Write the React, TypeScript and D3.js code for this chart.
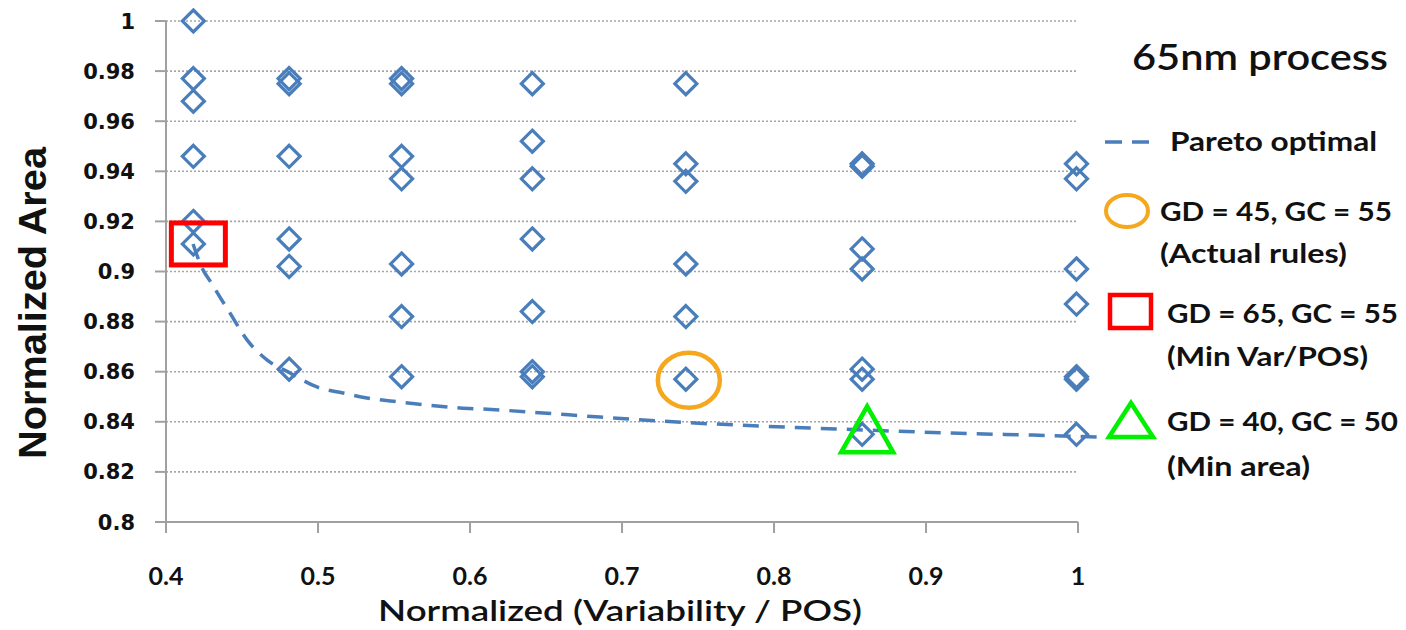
import React from "react";
import * as d3 from "d3";

// ---- data ----
const xTicks = [0.4, 0.5, 0.6, 0.7, 0.8, 0.9, 1];
const yTicks = [0.8, 0.82, 0.84, 0.86, 0.88, 0.9, 0.92, 0.94, 0.96, 0.98, 1];
const yTickLabels = ["0.8", "0.82", "0.84", "0.86", "0.88", "0.9", "0.92", "0.94", "0.96", "0.98", "1"];

const columnX = [0.418, 0.481, 0.555, 0.641, 0.742, 0.858, 0.999];
const areaCol1 = [1.0, 0.977, 0.968, 0.946, 0.920, 0.911];
const areaCol2 = [0.977, 0.975, 0.946, 0.913, 0.902, 0.861];
const areaCol3 = [0.977, 0.975, 0.946, 0.937, 0.903, 0.882, 0.858];
const areaCol4 = [0.975, 0.952, 0.937, 0.913, 0.884, 0.860, 0.858];
const areaCol5 = [0.975, 0.943, 0.936, 0.903, 0.882, 0.857];
const areaCol6 = [0.943, 0.942, 0.909, 0.901, 0.861, 0.857, 0.835];
const areaCol7 = [0.943, 0.937, 0.901, 0.887, 0.858, 0.857, 0.835];
const areaColumns = [areaCol1, areaCol2, areaCol3, areaCol4, areaCol5, areaCol6, areaCol7];

const paretoX = [0.4178, 0.4237, 0.4303, 0.4355, 0.4421, 0.4533, 0.4664, 0.4816, 0.4993, 0.5164, 0.5322, 0.5539, 0.5717, 0.5934, 0.6086, 0.648, 0.6855, 0.7362, 0.7908, 0.8612, 0.9158, 0.9704, 1.0164];
const paretoY = [0.911, 0.9014, 0.895, 0.8898, 0.8834, 0.8727, 0.8647, 0.8595, 0.8539, 0.8515, 0.8495, 0.8479, 0.8467, 0.8455, 0.8451, 0.8435, 0.8419, 0.8399, 0.8383, 0.8367, 0.8355, 0.8347, 0.8339];

const actualRules = { x: 0.742, y: 0.857 };
const minVarPos = { x: 0.418, y: 0.911 };
const minArea = { x: 0.858, y: 0.835 };

const legendTitle = "65nm process";
const legendPareto = "Pareto optimal";
const legendActual = ["GD = 45, GC = 55", "(Actual rules)"];
const legendMinVar = ["GD = 65, GC = 55", "(Min Var/POS)"];
const legendMinArea = ["GD = 40, GC = 50", "(Min area)"];

// ---- styles ----
const BLUE = "#4A7EBB";
const GRID = "#A6A6A6";
const AXIS = "#A0A0A0";
const ORANGE = "#F5A81E";
const RED = "#FF0000";
const GREEN = "#00F000";
const CAL = "Lato, 'Open Sans', sans-serif";

export default function App() {
  const x = d3.scaleLinear().domain([0.4, 1]).range([166, 1078]);
  const y = d3.scaleLinear().domain([0.8, 1]).range([522, 21]);

  const pts: { x: number; y: number }[] = [];
  areaColumns.forEach((col, i) => col.forEach((v) => pts.push({ x: columnX[i], y: v })));

  const line = d3
    .line<number>()
    .x((_, i) => x(paretoX[i]))
    .y((d) => y(d))
    .curve(d3.curveMonotoneX);

  const diamond = (cx: number, cy: number, r: number) =>
    `M${cx},${cy - r}L${cx + r},${cy}L${cx},${cy + r}L${cx - r},${cy}Z`;

  const ax = x(actualRules.x), ay = y(actualRules.y);
  const mvx = x(minVarPos.x), mvy = y(minVarPos.y);
  const max = x(minArea.x), may = y(minArea.y);

  const legText = { fontFamily: CAL, fontWeight: 700, fontSize: 27, fill: "#111" } as const;

  return (
    <div style={{ position: "absolute", left: 0, top: 0 }}>
      <svg width={1406} height={630} style={{ display: "block", background: "#fff" }}>
        {/* gridlines */}
        {yTicks.filter((t) => t > 0.8).map((t) => (
          <line key={t} x1={x(0.4)} x2={x(1)} y1={y(t)} y2={y(t)} stroke={GRID} strokeWidth={1.6} strokeDasharray="2 2" />
        ))}
        {/* axes */}
        <line x1={x(0.4)} x2={x(0.4)} y1={y(1)} y2={y(0.8)} stroke={AXIS} strokeWidth={2} />
        <line x1={x(0.4) - 10} x2={x(1)} y1={y(0.8)} y2={y(0.8)} stroke={AXIS} strokeWidth={2} />
        {yTicks.map((t) => (
          <line key={"yt" + t} x1={x(0.4) - 11} x2={x(0.4)} y1={y(t)} y2={y(t)} stroke={AXIS} strokeWidth={2} />
        ))}
        {xTicks.map((t) => (
          <line key={"xt" + t} x1={x(t)} x2={x(t)} y1={y(0.8)} y2={y(0.8) + 11} stroke={AXIS} strokeWidth={2} />
        ))}
        {/* y tick labels */}
        {yTicks.map((t, i) => (
          <text key={"yl" + t} x={135} y={y(t)} dy="0.36em" textAnchor="end" fontFamily="'DejaVu Sans', Verdana, sans-serif" fontWeight={700} fontSize={21} fill="#111">
            {yTickLabels[i]}
          </text>
        ))}
        {/* x tick labels */}
        {xTicks.map((t) => (
          <text key={"xl" + t} x={x(t)} y={585} textAnchor="middle" fontFamily={CAL} fontWeight={700} fontSize={25} fill="#111">
            {String(t)}
          </text>
        ))}
        {/* axis titles */}
        <text x={620} y={621} textAnchor="middle" fontFamily={CAL} fontWeight={600} fontSize={29} fill="#111" textLength={484} lengthAdjust="spacingAndGlyphs">
          Normalized (Variability / POS)
        </text>
        <text transform="translate(46,303) rotate(-90)" textAnchor="middle" fontFamily="'Liberation Sans', Arial, sans-serif" fontWeight={700} fontSize={38} fill="#111" textLength={312} lengthAdjust="spacingAndGlyphs">
          Normalized Area
        </text>

        {/* pareto curve */}
        <path d={line(paretoY) || ""} fill="none" stroke={BLUE} strokeWidth={3.5} strokeDasharray="16 10" />

        {/* scatter diamonds */}
        {pts.map((p, i) => (
          <path key={"d" + i} d={diamond(x(p.x), y(p.y), 11)} fill="none" stroke={BLUE} strokeWidth={3.2} />
        ))}

        {/* highlight markers */}
        <ellipse cx={ax + 3} cy={ay + 1} rx={31} ry={27.5} fill="none" stroke={ORANGE} strokeWidth={4.5} />
        <rect x={mvx - 22} y={mvy - 21} width={54} height={42} fill="none" stroke={RED} strokeWidth={5} />
        <path d={`M${max + 5},${may - 28}L${max + 31},${may + 18}L${max - 21},${may + 18}Z`} fill="none" stroke={GREEN} strokeWidth={4.5} strokeLinejoin="miter" />

        {/* legend */}
        <text x={1132} y={70} fontFamily={CAL} fontWeight={600} fontSize={37} fill="#111" textLength={256} lengthAdjust="spacingAndGlyphs">
          {legendTitle}
        </text>
        <line x1={1105} x2={1149} y1={142} y2={142} stroke={BLUE} strokeWidth={3.5} strokeDasharray="17 10" />
        <text x={1170} y={151} {...legText} textLength={207} lengthAdjust="spacingAndGlyphs">{legendPareto}</text>

        <ellipse cx={1127} cy={211} rx={21} ry={16} fill="none" stroke={ORANGE} strokeWidth={4} />
        <text x={1160} y={221} {...legText} textLength={232} lengthAdjust="spacingAndGlyphs">{legendActual[0]}</text>
        <text x={1160} y={263} {...legText} textLength={187} lengthAdjust="spacingAndGlyphs">{legendActual[1]}</text>

        <rect x={1110} y={295} width={41} height={33} fill="none" stroke={RED} strokeWidth={4.5} />
        <text x={1167} y={323} {...legText} textLength={231} lengthAdjust="spacingAndGlyphs">{legendMinVar[0]}</text>
        <text x={1167} y={366} {...legText} textLength={201} lengthAdjust="spacingAndGlyphs">{legendMinVar[1]}</text>

        <path d="M1131,403L1153,437L1109,437Z" fill="none" stroke={GREEN} strokeWidth={4.5} />
        <text x={1167} y={431} {...legText} textLength={231} lengthAdjust="spacingAndGlyphs">{legendMinArea[0]}</text>
        <text x={1167} y={476} {...legText} textLength={143} lengthAdjust="spacingAndGlyphs">{legendMinArea[1]}</text>
      </svg>
    </div>
  );
}
